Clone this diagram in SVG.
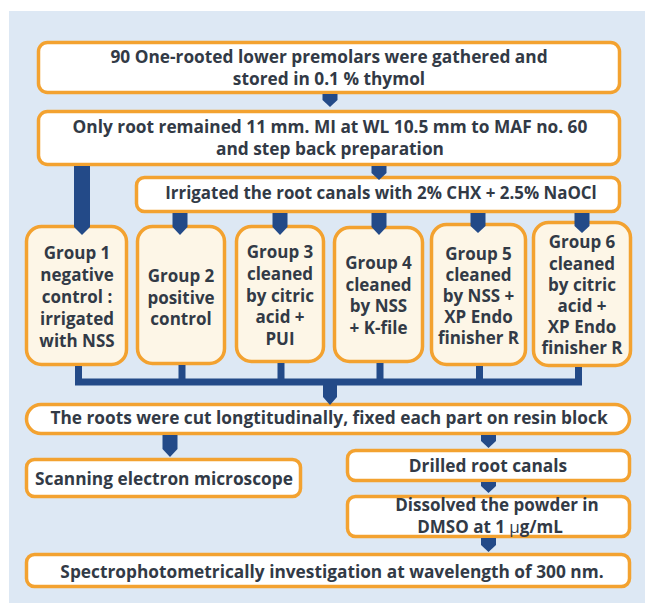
<svg xmlns="http://www.w3.org/2000/svg" width="645" height="603" viewBox="0 0 645 603">
<style>
.bg{fill:#dde8f4}
.box{fill:#ffffff;stroke:#f3a230;stroke-width:3.5}
.grp{fill:#fdf6e7;stroke:#f3a230;stroke-width:3.5}
.t{font-family:"Open Sans","Noto Sans","Liberation Sans",sans-serif;font-weight:bold;font-size:17.3px;fill:#323a46;text-anchor:middle}
.g{font-size:17px}
.s{font-size:16.9px}
.arr{fill:#234a88}
.bus{fill:none;stroke:#234a88;stroke-width:7}
</style>
<rect class="bg" x="9" y="11" width="636" height="592"/>
<g id="n1">
<rect class="box" x="38.5" y="42.5" width="581" height="50" rx="9"/>
<text class="t" x="329" y="63">90 One-rooted lower premolars were gathered and</text>
<text class="t" x="329" y="85">stored in 0.1 % thymol</text>
</g>
<g id="n2">
<rect class="box" x="38.5" y="111.5" width="581" height="53" rx="9"/>
<text class="t" x="330" y="133">Only root remained 11 mm. MI at WL 10.5 mm to MAF no. 60</text>
<text class="t" x="330" y="155">and step back preparation</text>
</g>
<g id="n3">
<rect class="box" x="136.5" y="177.5" width="483" height="34" rx="8"/>
<text class="t s" x="381" y="199">Irrigated the root canals with 2% CHX + 2.5% NaOCl</text>
</g>
<g id="g1">
<rect class="grp" x="26.5" y="226.5" width="100" height="138" rx="15"/>
<text class="t g" x="77" y="259">Group 1</text>
<text class="t g" x="77" y="281">negative</text>
<text class="t g" x="77" y="303">control :</text>
<text class="t g" x="77" y="325">irrigated</text>
<text class="t g" x="77" y="347">with NSS</text>
</g>
<g id="g2">
<rect class="grp" x="137.5" y="226.5" width="87" height="137" rx="15"/>
<text class="t g" x="181" y="282">Group 2</text>
<text class="t g" x="181" y="304">positive</text>
<text class="t g" x="181" y="325">control</text>
</g>
<g id="g3">
<rect class="grp" x="236.5" y="226.5" width="87" height="135" rx="15"/>
<text class="t g" x="280" y="258">Group 3</text>
<text class="t g" x="280" y="280">cleaned</text>
<text class="t g" x="280" y="302">by citric</text>
<text class="t g" x="280" y="323">acid +</text>
<text class="t g" x="280" y="345">PUI</text>
</g>
<g id="g4">
<rect class="grp" x="334.5" y="227.5" width="88" height="134" rx="15"/>
<text class="t g" x="378.5" y="269">Group 4</text>
<text class="t g" x="378.5" y="291">cleaned</text>
<text class="t g" x="378.5" y="312">by NSS</text>
<text class="t g" x="378.5" y="334">+ K-file</text>
</g>
<g id="g5">
<rect class="grp" x="431.5" y="224.5" width="94" height="140" rx="15"/>
<text class="t g" x="478.5" y="260">Group 5</text>
<text class="t g" x="478.5" y="281">cleaned</text>
<text class="t g" x="478.5" y="302">by NSS +</text>
<text class="t g" x="478.5" y="323">XP Endo</text>
<text class="t g" x="478.5" y="344">finisher R</text>
</g>
<g id="g6">
<rect class="grp" x="533.5" y="222.5" width="97" height="143" rx="15"/>
<text class="t g" x="582" y="248">Group 6</text>
<text class="t g" x="582" y="270">cleaned</text>
<text class="t g" x="582" y="291">by citric</text>
<text class="t g" x="582" y="312">acid  +</text>
<text class="t g" x="582" y="333">XP Endo</text>
<text class="t g" x="582" y="354">finisher R</text>
</g>
<g id="n4">
<rect class="box" x="26.5" y="404.5" width="603" height="29" rx="14.5"/>
<text class="t" x="329" y="424">The roots were cut longtitudinally, fixed each part on resin block</text>
</g>
<g id="n5">
<rect class="box" x="26.5" y="459.5" width="274" height="37" rx="8"/>
<text class="t" x="164" y="485">Scanning electron microscope</text>
</g>
<g id="n6">
<rect class="box" x="347.5" y="450.5" width="282" height="30" rx="8"/>
<text class="t" x="488" y="472">Drilled root canals</text>
</g>
<g id="n7">
<rect class="box" x="347.5" y="496.5" width="282" height="40" rx="8"/>
<text class="t g" x="497" y="511">Dissolved the powder in</text>
<text class="t g" x="490" y="533">DMSO at 1 <tspan font-weight="normal">μ</tspan>g/mL</text>
</g>
<g id="n8">
<rect class="box" x="26.5" y="554.5" width="603" height="32" rx="8"/>
<text class="t" x="332" y="578">Spectrophotometrically investigation at wavelength of 300 nm.</text>
</g>
<g id="connectors">
<path class="arr" d="M322.5,94 V100 L330,107 L337.5,100 V94 Z"/>
<path class="arr" d="M371.5,166 V173 L379,180 L386.5,173 V166 Z"/>
<path class="arr" d="M74,166 V227 L82,235 L90,227 V166 Z"/>
<path class="arr" d="M172.5,213 V227 L180,235 L187.5,227 V213 Z"/>
<path class="arr" d="M272.5,213 V227 L280,235 L287.5,227 V213 Z"/>
<path class="arr" d="M371.5,213 V227 L379,235 L386.5,227 V213 Z"/>
<path class="arr" d="M470.5,213 V226 L478,233 L485.5,226 V213 Z"/>
<path class="arr" d="M574.5,213 V226 L582,233 L589.5,226 V213 Z"/>
<path class="bus" d="M78.5,366 V382 H578.5 V367 M182,365 V382 M281,363 V382 M380,363 V382 M479.5,366 V382"/>
<path class="arr" d="M323,382 V397 L330,405 L337,397 V382 Z"/>
<path class="arr" d="M162.5,435 V449 L170,457 L177.5,449 V435 Z"/>
<path class="arr" d="M481,435 V441 L488.5,448 L496,441 V435 Z"/>
<path class="arr" d="M481,482 V486 L488.5,493 L496,486 V482 Z"/>
<path class="arr" d="M481,538 V545 L488.5,552 L496,545 V538 Z"/>
</g>
</svg>
